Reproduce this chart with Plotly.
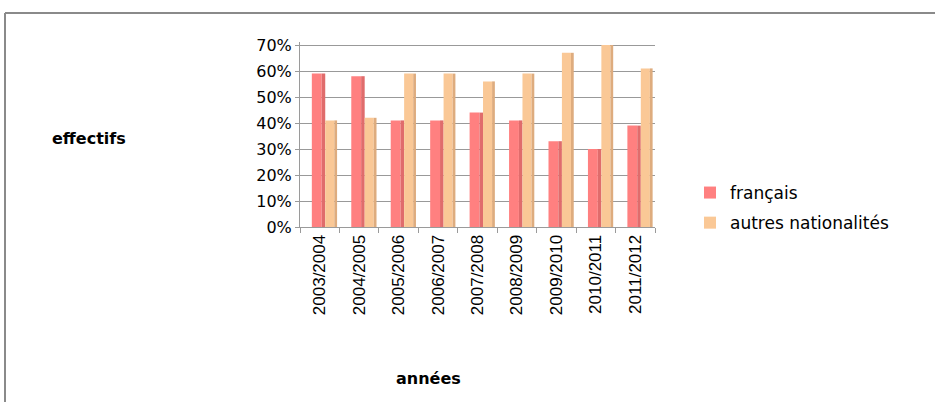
import plotly.graph_objects as go

annees = ["2003/2004", "2004/2005", "2005/2006", "2006/2007", "2007/2008",
          "2008/2009", "2009/2010", "2010/2011", "2011/2012"]
francais = [0.59, 0.58, 0.41, 0.41, 0.44, 0.41, 0.33, 0.30, 0.39]
autres = [0.41, 0.42, 0.59, 0.59, 0.56, 0.59, 0.67, 0.70, 0.61]
y_ticks = [0, 0.1, 0.2, 0.3, 0.4, 0.5, 0.6, 0.7]
y_labels = ["0%", "10%", "20%", "30%", "40%", "50%", "60%", "70%"]

W, H = 935, 402
L, R, T, B = 300, 655, 42, 227

def px(x):
    return (x - L) / (R - L)

def py(y):
    return (B - y) / (B - T)

fig = go.Figure()
# front faces and darker side faces
fig.add_trace(go.Bar(x=annees, y=francais, name="français", legendgroup="a",
                     width=0.25, offset=-0.2, marker=dict(color="#FF8080", line=dict(width=0))))
fig.add_trace(go.Bar(x=annees, y=francais, name="français", legendgroup="a", showlegend=False,
                     hoverinfo="skip", width=0.09, offset=0.05,
                     marker=dict(color="#E06C6C", line=dict(width=0))))
fig.add_trace(go.Bar(x=annees, y=autres, name="autres nationalités", legendgroup="b",
                     width=0.23, offset=0.14, marker=dict(color="#FAC896", line=dict(width=0))))
fig.add_trace(go.Bar(x=annees, y=autres, name="autres nationalités", legendgroup="b",
                     showlegend=False, hoverinfo="skip", width=0.07, offset=0.37,
                     marker=dict(color="#DEAC7E", line=dict(width=0))))

fig.update_layout(
    width=W, height=H,
    margin=dict(l=L, r=W - R, t=T, b=H - B, autoexpand=False),
    paper_bgcolor="white", plot_bgcolor="white",
    barmode="overlay",
    font=dict(family="DejaVu Sans", color="#000000"),
    xaxis=dict(tickangle=-90, tickfont=dict(family="Liberation Sans Narrow, Liberation Sans", size=17),
               showline=True, linecolor="#9a9a9a", ticks="outside", tickson="boundaries",
               tickcolor="#9a9a9a", ticklen=5, showgrid=False, range=[-0.5, 8.5]),
    yaxis=dict(range=[0, 0.7 * (B - T) / (B - T - 3)], tickvals=y_ticks, ticktext=y_labels,
               tickfont=dict(family="DejaVu Sans", size=16),
               showline=True, linecolor="#9a9a9a", showgrid=True, gridcolor="#999999",
               gridwidth=1, ticks="outside", tickcolor="#9a9a9a", ticklen=4, zeroline=False),
    legend=dict(x=px(690), y=py(175), xanchor="left", yanchor="top",
                font=dict(family="DejaVu Sans", size=17), tracegroupgap=5,
                bgcolor="rgba(0,0,0,0)"),
    annotations=[
        dict(text="<b>effectifs</b>", x=px(89), y=py(138), xref="paper", yref="paper",
             xanchor="center", yanchor="middle",
             showarrow=False, font=dict(family="DejaVu Sans", size=16)),
        dict(text="<b>années</b>", x=px(428), y=py(378), xref="paper", yref="paper",
             xanchor="center", yanchor="middle",
             showarrow=False, font=dict(family="DejaVu Sans", size=16)),
    ],
    shapes=[
        dict(type="line", xref="paper", yref="paper", x0=px(5), x1=px(5), y0=py(13), y1=py(402),
             line=dict(color="#8a8a8a", width=2)),
        dict(type="line", xref="paper", yref="paper", x0=px(5), x1=px(935), y0=py(13), y1=py(13),
             line=dict(color="#8a8a8a", width=2)),
    ],
)

fig.write_html("out.html", config={"displayModeBar": False},
               post_script="document.body.style.margin='0';")
